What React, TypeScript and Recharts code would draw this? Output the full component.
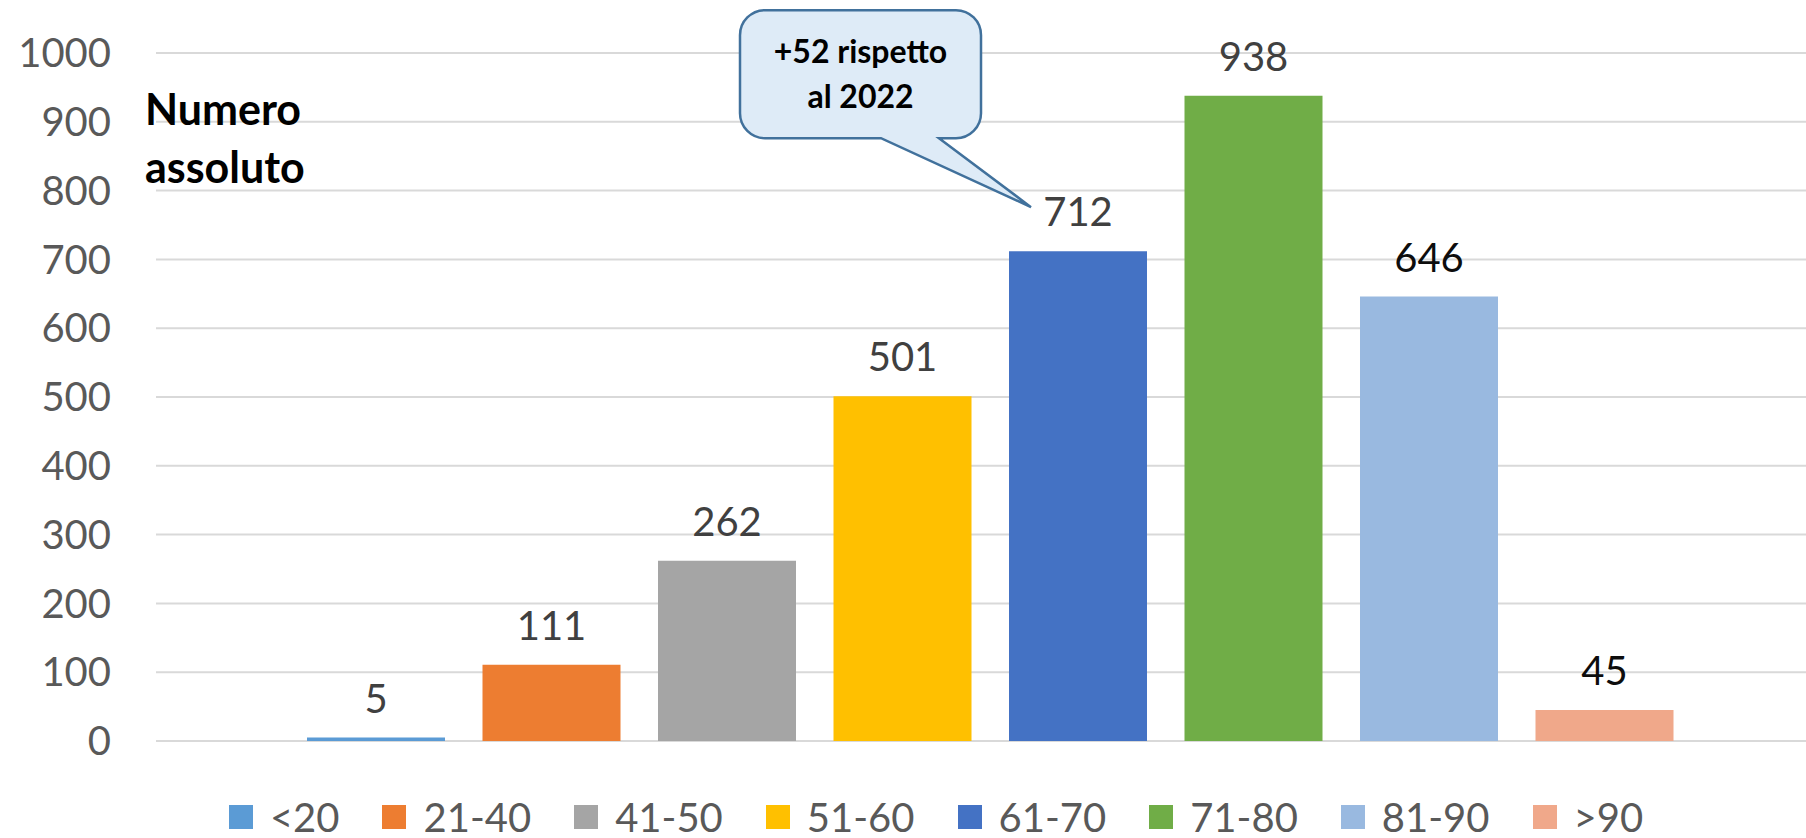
import { Bar, BarChart, CartesianGrid, Customized, LabelList, Legend, XAxis, YAxis } from 'recharts'

const ageGroups = ['<20', '21-40', '41-50', '51-60', '61-70', '71-80', '81-90', '>90']
const counts = [5, 111, 262, 501, 712, 938, 646, 45]
const barColors = ['#5B9BD5', '#ED7D31', '#A5A5A5', '#FFC000', '#4472C4', '#70AD47', '#99B9E0', '#F0A88A']
const labelColors = ['#404040', '#404040', '#404040', '#404040', '#404040', '#404040', '#0D0D0D', '#0D0D0D']
const yTicks = [0, 100, 200, 300, 400, 500, 600, 700, 800, 900, 1000]
const titleLines = ['Numero', 'assoluto']
const calloutLines = ['+52 rispetto', 'al 2022']
const calloutGroup = '61-70'

const FONT = 'Lato, "Open Sans", sans-serif'

const row: Record<string, string | number> = { name: '' }
ageGroups.forEach((g, i) => {
    row[g] = counts[i]
})
const data = [row]

const makeLabel = (color: string, withCallout: boolean) => (props: any) => {
    const { x, y, width, value } = props
    const bx = Number(x)
    const by = Number(y)
    const w = Number(width)
    const label = (
        <text
            x={bx + w / 2}
            y={by - 25}
            textAnchor="middle"
            fontSize={40}
            fontFamily={FONT}
            fill={color}
        >
            {value}
        </text>
    )
    if (!withCallout) return label

    // speech bubble pointing at the label
    const L = bx - 269
    const R = bx - 28
    const T = by - 241
    const B = by - 113
    const r = 25
    const path = [
        `M ${L + r} ${T}`,
        `H ${R - r}`,
        `A ${r} ${r} 0 0 1 ${R} ${T + r}`,
        `V ${B - r}`,
        `A ${r} ${r} 0 0 1 ${R - r} ${B}`,
        `H ${bx - 70}`,
        `L ${bx + 22} ${by - 44}`,
        `L ${bx - 128} ${B}`,
        `H ${L + r}`,
        `A ${r} ${r} 0 0 1 ${L} ${B - r}`,
        `V ${T + r}`,
        `A ${r} ${r} 0 0 1 ${L + r} ${T}`,
        'Z',
    ].join(' ')
    const cx = (L + R) / 2
    return (
        <g>
            <path d={path} fill="#DEEBF7" stroke="#41719C" strokeWidth={2.5} />
            {calloutLines.map((line, i) => (
                <text
                    key={line}
                    x={cx}
                    y={by - 188 + i * 45}
                    textAnchor="middle"
                    fontSize={32}
                    fontWeight="bold"
                    fontFamily={FONT}
                    fill="#000"
                >
                    {line}
                </text>
            ))}
            {label}
        </g>
    )
}

const Title = () => (
    <g>
        {titleLines.map((line, i) => (
            <text
                key={line}
                x={145}
                y={125 + i * 58}
                fontSize={43}
                fontWeight="bold"
                fontFamily={FONT}
                fill="#000"
            >
                {line}
            </text>
        ))}
    </g>
)

const LegendContent = () => (
    <div
        style={{
            display: 'flex',
            justifyContent: 'center',
            alignItems: 'center',
            height: 42,
            paddingLeft: 66,
            fontFamily: FONT,
            fontSize: 40,
            lineHeight: '42px',
            color: '#595959',
        }}
    >
        {ageGroups.map((g, i) => (
            <div key={g} style={{ display: 'flex', alignItems: 'center', marginRight: i < ageGroups.length - 1 ? 43 : 0 }}>
                <div style={{ width: 24, height: 24, background: barColors[i], marginRight: 17 }} />
                <span>{g}</span>
            </div>
        ))}
    </div>
)

export default function App() {
    return (
        <div style={{ position: 'absolute', left: 0, top: 0, width: 1806, height: 838, background: '#fff' }}>
            <BarChart
                width={1806}
                height={838}
                data={data}
                margin={{ top: 53, right: 0, left: 0, bottom: 55 }}
                barGap={37.5}
            >
                <CartesianGrid vertical={false} stroke="#D9D9D9" strokeWidth={2} />
                <XAxis dataKey="name" hide padding={{ left: 18, right: 0 }} />
                <YAxis
                    width={156}
                    domain={[0, 1000]}
                    ticks={yTicks}
                    interval={0}
                    axisLine={false}
                    tickLine={false}
                    tickSize={0}
                    tickMargin={45}
                    tick={{ fill: '#595959', fontSize: 40, fontFamily: FONT }}
                />
                <Legend
                    content={<LegendContent />}
                    verticalAlign="bottom"
                    wrapperStyle={{ top: 796, left: 0, width: 1806, height: 42 }}
                />
                {ageGroups.map((g, i) => (
                    <Bar key={g} dataKey={g} name={g} fill={barColors[i]} barSize={138} isAnimationActive={false}>
                        <LabelList
                            dataKey={g}
                            position="top"
                            content={makeLabel(labelColors[i], g === calloutGroup)}
                        />
                    </Bar>
                ))}
                <Customized component={<Title />} />
            </BarChart>
        </div>
    )
}
